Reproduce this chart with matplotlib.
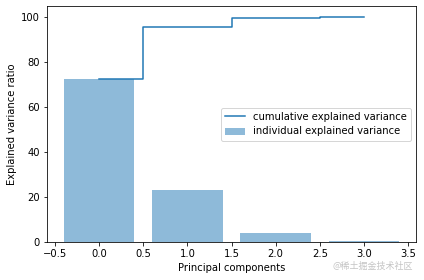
import matplotlib
matplotlib.use("Agg")
import matplotlib.pyplot as plt
import numpy as np

components = [0, 1, 2, 3]
individual = [72.5, 23.1, 3.9, 0.5]
cumulative = list(np.cumsum(individual))

fig = plt.figure(figsize=(424/72, 280/72), dpi=72)
ax = fig.add_axes([47/424, 38/280, 369/424, 236/280])
ax.bar(components, individual, alpha=0.5, align='center', label='individual explained variance')
ax.step(components, cumulative, where='mid', label='cumulative explained variance')
ax.set_ylabel('Explained variance ratio')
ax.set_xlabel('Principal components')
ax.legend(loc='best')
fig.text(0.974, 0.047, '@稀土掘金技术社区', ha='right', va='center', color='#c4c4c4', fontsize=9,
         family=['Noto Sans CJK SC', 'DejaVu Sans'])
fig.savefig('out.png', dpi=72)
